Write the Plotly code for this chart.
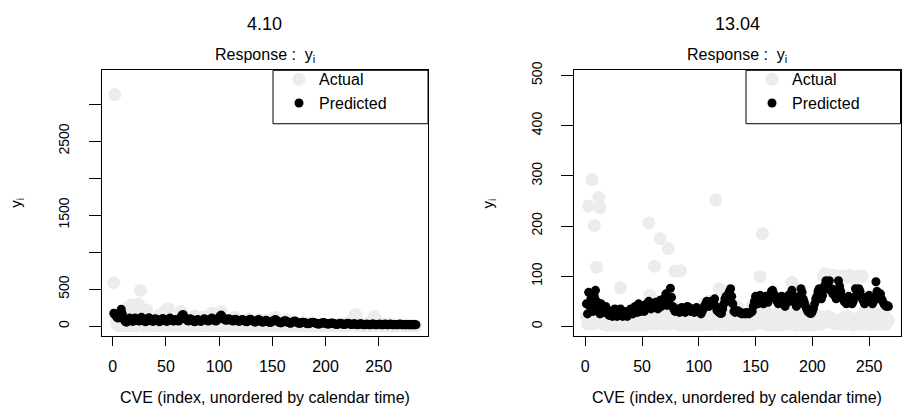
import plotly.graph_objects as go

W, H = 923, 413

# ---------------- data: panel "4.10" ----------------
left_predicted = [
    175,160,140,120,110,150,190,230,170,110,80,60,55,70,90,110,95,70,65,90,
    110,100,85,75,70,95,120,105,90,70,60,75,100,115,100,85,70,65,80,100,
    95,80,70,60,75,90,105,95,80,70,65,80,100,110,95,80,70,75,90,85,
    75,70,90,120,145,160,140,110,90,80,70,85,100,95,80,70,60,70,85,90,
    80,70,65,75,90,100,95,85,75,70,80,95,110,100,85,75,70,80,100,120,
    140,150,130,110,95,85,80,90,100,95,85,75,70,80,95,90,80,70,65,75,
    85,90,80,70,65,60,70,85,95,90,80,70,60,55,65,80,90,85,70,60,
    55,60,70,80,75,65,55,50,55,65,75,85,90,80,65,55,50,45,50,60,
    70,75,70,60,50,45,40,45,55,65,70,65,55,45,40,40,45,50,55,50,
    45,40,35,35,40,45,50,55,50,45,40,35,30,30,35,40,45,50,45,40,
    35,30,30,35,40,45,40,35,30,25,25,30,35,40,35,30,25,25,30,35,
    40,35,30,25,25,30,35,30,25,20,25,30,35,30,25,20,20,25,30,25,
    20,20,25,30,30,25,20,20,25,25,30,25,20,20,25,30,25,20,20,25,
    30,25,20,20,25,25,20,20,25,30,25,20,20,25,20,20,25,20,20,25,
    20,20,25,20,20,
]
left_actual = [
    584,3127,120,30,10,60,150,20,5,40,100,15,5,250,180,60,10,290,200,40,
    10,5,270,300,80,483,20,150,10,5,60,220,40,10,5,30,90,10,5,20,
    60,5,10,150,30,5,10,80,200,120,30,240,20,5,40,10,5,60,10,5,
    30,5,100,200,170,40,10,5,30,80,10,5,20,60,5,10,140,20,5,10,
    40,5,10,30,120,10,5,60,10,5,30,5,180,100,20,5,10,40,5,10,
    150,200,60,10,5,30,10,5,80,10,5,20,10,5,120,30,5,10,40,5,
    10,60,5,10,30,5,10,100,40,5,10,20,5,10,60,5,10,90,20,5,
    10,40,5,10,80,20,5,10,30,5,10,5,120,40,5,10,20,5,10,60,
    5,10,90,20,5,10,30,5,10,5,60,20,5,10,5,30,5,10,50,5,
    10,5,20,5,10,40,5,10,5,20,5,10,5,30,5,10,5,20,5,10,
    5,10,30,5,10,5,20,5,10,5,10,5,30,5,10,5,20,5,10,5,
    10,5,60,20,5,10,90,160,140,30,5,10,5,20,5,10,5,30,5,10,
    5,10,40,5,90,132,110,40,5,10,5,20,5,10,5,30,5,10,5,20,
    5,10,5,20,5,10,5,10,5,20,5,10,5,10,5,20,5,10,5,10,
    5,10,5,10,5,
]

# ---------------- data: panel "13.04" ----------------
right_predicted = [
    45,25,68,40,55,35,30,60,72,50,40,30,25,45,35,28,30,40,35,25,
    22,25,30,20,28,35,25,20,22,30,35,28,20,25,30,22,20,25,28,35,
    30,25,32,40,35,28,45,38,30,35,42,30,35,45,40,50,42,35,45,38,
    40,48,42,35,45,52,40,45,55,48,65,42,50,45,76,58,40,35,30,32,
    35,30,28,32,38,35,30,28,35,40,38,32,30,35,32,28,30,38,35,30,
    28,25,30,35,40,45,50,45,40,42,50,48,45,55,40,32,30,28,26,26,
    35,45,55,60,50,65,70,75,60,45,30,28,30,32,30,28,26,25,27,26,
    25,28,26,25,27,28,30,40,50,60,55,45,50,62,58,50,45,55,60,52,
    48,55,60,70,72,65,62,55,50,45,48,55,60,52,45,40,48,55,62,58,
    50,72,62,55,48,40,45,52,60,75,68,55,48,40,35,30,28,26,26,30,
    36,45,55,60,70,75,55,55,62,75,82,91,80,75,91,72,75,65,70,60,
    55,65,91,80,70,60,55,50,48,45,52,60,55,48,45,50,58,75,72,65,
    75,70,60,55,50,45,48,55,60,62,55,50,45,50,58,89,70,60,55,65,
    55,50,45,42,40,42,40,
]
right_actual = [
    20,5,240,10,30,292,5,201,15,118,40,257,236,10,5,20,8,3,15,5,
    2,10,4,6,3,12,5,2,8,20,77,5,3,10,2,6,4,15,3,5,
    8,2,5,12,3,6,30,4,2,10,5,20,3,8,15,206,62,40,5,10,
    120,20,5,50,10,175,30,8,15,4,20,10,155,35,5,12,40,8,110,20,
    5,10,3,111,15,5,8,2,20,4,10,3,6,12,2,5,15,3,8,2,
    4,10,3,20,45,10,5,30,50,8,3,15,5,10,252,20,5,75,10,3,
    6,15,4,30,10,5,20,8,3,12,4,20,5,40,8,3,10,6,2,15,
    5,10,3,20,5,8,40,4,10,5,30,8,15,99,20,185,10,5,30,12,
    4,20,8,3,15,5,10,25,4,8,15,5,20,3,10,6,40,8,15,5,
    10,88,20,5,8,3,15,10,4,20,5,8,12,3,6,15,4,10,20,5,
    3,10,6,15,4,8,20,5,10,100,105,95,100,20,100,8,98,15,102,5,
    100,10,95,5,100,15,8,100,4,98,20,102,10,5,100,3,95,15,8,100,
    10,5,20,100,4,30,8,15,5,40,10,3,20,6,15,4,10,25,5,8,
    15,4,10,20,5,8,12,
]

panel_titles = ["4.10", "13.04"]
subtitle = "Response :  y<sub>i</sub>"
x_title = "CVE (index, unordered by calendar time)"
y_title = "y<sub>i</sub>"
x_ticks = [0, 50, 100, 150, 200, 250]
left_y_labeled = [0, 500, 1500, 2500]
left_y_step = 500
right_y_ticks = [0, 100, 200, 300, 400, 500]

GREY = "#ECECEC"
FONT = "Liberation Sans"

def px_x(p):
    return p / W

def px_y(p):
    return 1 - p / H

# plot boxes in pixels
L_BOX = (101.7, 428.0)
R_BOX = (574.3, 900.5)
TOP, BOT = 62.7, 334.3

fig = go.Figure()

def idx(v):
    return list(range(1, len(v) + 1))

fig.add_trace(go.Scatter(x=idx(left_actual), y=left_actual, mode="markers", name="Actual",
                         marker=dict(color=GREY, size=13, line=dict(width=0)),
                         xaxis="x", yaxis="y", legend="legend"))
fig.add_trace(go.Scatter(x=idx(left_predicted), y=left_predicted, mode="markers", name="Predicted",
                         marker=dict(color="black", size=9, line=dict(width=0)),
                         xaxis="x", yaxis="y", legend="legend"))
fig.add_trace(go.Scatter(x=idx(right_actual), y=right_actual, mode="markers", name="Actual",
                         marker=dict(color=GREY, size=13, line=dict(width=0)),
                         xaxis="x2", yaxis="y2", legend="legend2"))
fig.add_trace(go.Scatter(x=idx(right_predicted), y=right_predicted, mode="markers", name="Predicted",
                         marker=dict(color="black", size=9, line=dict(width=0)),
                         xaxis="x2", yaxis="y2", legend="legend2"))

common_x = dict(tickvals=x_ticks, ticks="outside", ticklen=9, tickwidth=1, tickcolor="black",
                showline=True, mirror=True, linecolor="black", linewidth=1,
                showgrid=False, zeroline=False, tickfont=dict(family=FONT, size=16, color="black"),
                ticklabelstandoff=7)
common_y = dict(ticks="outside", ticklen=12, tickwidth=1, tickcolor="black",
                showline=True, mirror=True, linecolor="black", linewidth=1,
                showgrid=False, zeroline=False, tickangle=-90,
                tickfont=dict(family=FONT, size=14, color="black"),
                ticklabelstandoff=14)

n_l = len(left_predicted)
n_r = len(right_predicted)
pad_l = 0.04 * (n_l - 1)
pad_r = 0.04 * (n_r - 1)

fig.update_layout(
    width=W, height=H,
    margin=dict(l=0, r=0, t=0, b=0),
    paper_bgcolor="white", plot_bgcolor="white",
    font=dict(family=FONT, color="black"),
    xaxis=dict(domain=[px_x(L_BOX[0]), px_x(L_BOX[1])], range=[1 - pad_l, n_l + pad_l],
               anchor="y", **common_x),
    yaxis=dict(domain=[px_y(BOT), px_y(TOP)], range=[-132, 3455], anchor="x",
               tickvals=left_y_labeled,
               minor=dict(tick0=0, dtick=left_y_step, ticks="outside", ticklen=12,
                          tickwidth=1, tickcolor="black", showgrid=False),
               **common_y),
    xaxis2=dict(domain=[px_x(R_BOX[0]), px_x(R_BOX[1])], range=[1 - pad_r, n_r + pad_r],
                anchor="y2", **common_x),
    yaxis2=dict(domain=[px_y(BOT), px_y(TOP)], range=[-19, 510], anchor="x2",
                tickvals=right_y_ticks, **common_y),
    legend=dict(x=px_x(279), y=px_y(54.5), xanchor="left", yanchor="top",
                bgcolor="rgba(0,0,0,0)", borderwidth=0, itemsizing="trace",
                font=dict(family=FONT, size=16, color="black"), tracegroupgap=0),
    legend2=dict(x=px_x(752), y=px_y(54.5), xanchor="left", yanchor="top",
                 bgcolor="rgba(0,0,0,0)", borderwidth=0, itemsizing="trace",
                 font=dict(family=FONT, size=16, color="black"), tracegroupgap=0),
    showlegend=True,
)

# legend frames
for x0, x1 in [(273, L_BOX[1]), (746, R_BOX[1])]:
    fig.add_shape(type="rect", xref="paper", yref="paper",
                  x0=px_x(x0), x1=px_x(x1), y0=px_y(117.3), y1=px_y(TOP),
                  line=dict(color="black", width=1), fillcolor="rgba(0,0,0,0)", layer="above")

ann = []
for title, box in zip(panel_titles, [L_BOX, R_BOX]):
    cx = px_x((box[0] + box[1]) / 2)
    ann.append(dict(text=title, x=cx, y=px_y(15), xref="paper", yref="paper",
                    xanchor="center", yanchor="middle", showarrow=False,
                    font=dict(family=FONT, size=18, color="black")))
    ann.append(dict(text=subtitle, x=cx, y=px_y(48), xref="paper", yref="paper",
                    xanchor="center", yanchor="middle", showarrow=False,
                    font=dict(family=FONT, size=16, color="black")))
    ann.append(dict(text=x_title, x=cx, y=px_y(397), xref="paper", yref="paper",
                    xanchor="center", yanchor="middle", showarrow=False,
                    font=dict(family=FONT, size=16, color="black")))
for lx in [15.7, 488.3]:
    ann.append(dict(text=y_title, x=px_x(lx), y=px_y((TOP + BOT) / 2), xref="paper", yref="paper",
                    xanchor="center", yanchor="middle", showarrow=False, textangle=-90,
                    font=dict(family=FONT, size=15, color="black")))
fig.update_layout(annotations=ann)

fig.write_html("out.html")
